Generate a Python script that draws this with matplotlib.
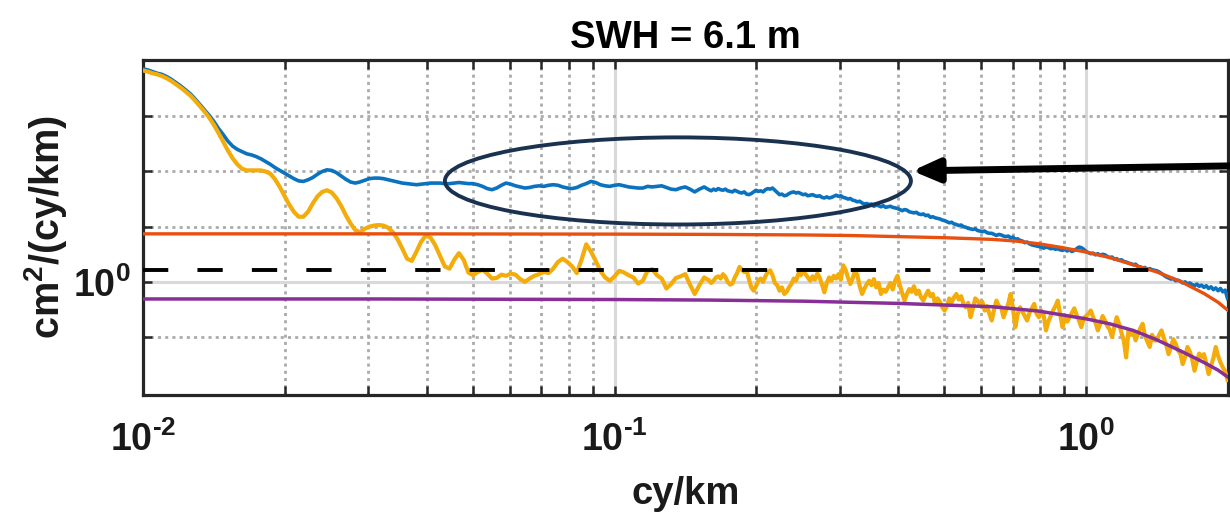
import matplotlib
matplotlib.use("Agg")
import matplotlib.pyplot as plt
import numpy as np
from matplotlib.patches import Ellipse
from matplotlib.ticker import FixedLocator, NullFormatter, FuncFormatter, LogLocator

# ---------------------------------------------------------------------------
# Wavenumber grid (log10 of cy/km) and spectra (log10 of cm^2/(cy/km))
# ---------------------------------------------------------------------------
freq_exp = [
    -2.00, -1.99, -1.98, -1.97, -1.96, -1.95, -1.94, -1.93, -1.92, -1.91,
    -1.90, -1.89, -1.88, -1.87, -1.86, -1.85, -1.84, -1.83, -1.82, -1.81,
    -1.80, -1.79, -1.78, -1.77, -1.76, -1.75, -1.74, -1.73, -1.72, -1.71,
    -1.70, -1.69, -1.68, -1.67, -1.66, -1.65, -1.64, -1.63, -1.62, -1.61,
    -1.60, -1.59, -1.58, -1.57, -1.56, -1.55, -1.54, -1.53, -1.52, -1.51,
    -1.50, -1.49, -1.48, -1.47, -1.46, -1.45, -1.44, -1.43, -1.42, -1.41,
    -1.40, -1.39, -1.38, -1.37, -1.36, -1.35, -1.34, -1.33, -1.32, -1.31,
    -1.30, -1.29, -1.28, -1.27, -1.26, -1.25, -1.24, -1.23, -1.22, -1.21,
    -1.20, -1.19, -1.18, -1.17, -1.16, -1.15, -1.14, -1.13, -1.12, -1.11,
    -1.10, -1.09, -1.08, -1.07, -1.06, -1.05, -1.04, -1.03, -1.02, -1.01,
    -1.00, -0.99, -0.98, -0.97, -0.96, -0.95, -0.94, -0.93, -0.92, -0.91,
    -0.90, -0.89, -0.88, -0.87, -0.86, -0.85, -0.84, -0.83, -0.82, -0.81,
    -0.800, -0.795, -0.790, -0.785, -0.780, -0.775, -0.770, -0.765, -0.760, -0.755,
    -0.750, -0.745, -0.740, -0.735, -0.730, -0.725, -0.720, -0.715, -0.710, -0.705,
    -0.700, -0.695, -0.690, -0.685, -0.680, -0.675, -0.670, -0.665, -0.660, -0.655,
    -0.650, -0.645, -0.640, -0.635, -0.630, -0.625, -0.620, -0.615, -0.610, -0.605,
    -0.600, -0.595, -0.590, -0.585, -0.580, -0.575, -0.570, -0.565, -0.560, -0.555,
    -0.550, -0.545, -0.540, -0.535, -0.530, -0.525, -0.520, -0.515, -0.510, -0.505,
    -0.500, -0.495, -0.490, -0.485, -0.480, -0.475, -0.470, -0.465, -0.460, -0.455,
    -0.450, -0.445, -0.440, -0.435, -0.430, -0.425, -0.420, -0.415, -0.410, -0.405,
    -0.400, -0.395, -0.390, -0.385, -0.380, -0.375, -0.370, -0.365, -0.360, -0.355,
    -0.350, -0.345, -0.340, -0.335, -0.330, -0.325, -0.320, -0.315, -0.310, -0.305,
    -0.300, -0.295, -0.290, -0.285, -0.280, -0.275, -0.270, -0.265, -0.260, -0.255,
    -0.250, -0.245, -0.240, -0.235, -0.230, -0.225, -0.220, -0.215, -0.210, -0.205,
    -0.200, -0.195, -0.190, -0.185, -0.180, -0.175, -0.170, -0.165, -0.160, -0.155,
    -0.150, -0.145, -0.140, -0.135, -0.130, -0.125, -0.120, -0.115, -0.110, -0.105,
    -0.100, -0.095, -0.090, -0.085, -0.080, -0.075, -0.070, -0.065, -0.060, -0.055,
    -0.050, -0.045, -0.040, -0.035, -0.030, -0.025, -0.020, -0.015, -0.010, -0.005,
    0.000, 0.005, 0.010, 0.015, 0.020, 0.025, 0.030, 0.035, 0.040, 0.045,
    0.050, 0.055, 0.060, 0.065, 0.070, 0.075, 0.080, 0.085, 0.090, 0.095,
    0.100, 0.105, 0.110, 0.115, 0.120, 0.125, 0.130, 0.135, 0.140, 0.145,
    0.150, 0.155, 0.160, 0.165, 0.170, 0.175, 0.180, 0.185, 0.190, 0.195,
    0.200, 0.205, 0.210, 0.215, 0.220, 0.225, 0.230, 0.235, 0.240, 0.245,
    0.250, 0.255, 0.260, 0.265, 0.270, 0.275, 0.280, 0.285, 0.290, 0.295,
    0.300,
]

# total SSH spectrum
spec_total_exp = [
    3.86, 3.84, 3.81, 3.78, 3.76, 3.72, 3.67, 3.61, 3.55, 3.48,
    3.41, 3.32, 3.22, 3.12, 3.02, 2.91, 2.78, 2.67, 2.55, 2.46,
    2.40, 2.36, 2.32, 2.30, 2.27, 2.23, 2.18, 2.13, 2.07, 2.02,
    1.97, 1.92, 1.87, 1.83, 1.82, 1.85, 1.89, 1.95, 2.00, 2.03,
    2.02, 1.98, 1.92, 1.86, 1.81, 1.79, 1.81, 1.84, 1.87, 1.88,
    1.88, 1.87, 1.85, 1.83, 1.81, 1.79, 1.78, 1.77, 1.76, 1.77,
    1.78, 1.79, 1.79, 1.79, 1.78, 1.78, 1.79, 1.80, 1.79, 1.78,
    1.78, 1.76, 1.73, 1.69, 1.67, 1.70, 1.75, 1.79, 1.77, 1.74,
    1.72, 1.70, 1.71, 1.73, 1.74, 1.73, 1.75, 1.76, 1.75, 1.72,
    1.70, 1.69, 1.71, 1.75, 1.78, 1.82, 1.80, 1.76, 1.74, 1.73,
    1.75, 1.76, 1.74, 1.72, 1.71, 1.70, 1.70, 1.73, 1.72, 1.73,
    1.74, 1.71, 1.68, 1.67, 1.70, 1.72, 1.68, 1.63, 1.68, 1.72,
    1.67, 1.65, 1.68, 1.66, 1.69, 1.67, 1.66, 1.68, 1.65, 1.64,
    1.63, 1.66, 1.64, 1.62, 1.61, 1.63, 1.59, 1.58, 1.60, 1.63,
    1.66, 1.64, 1.65, 1.63, 1.67, 1.69, 1.68, 1.70, 1.66, 1.62,
    1.58, 1.59, 1.56, 1.57, 1.60, 1.62, 1.63, 1.61, 1.62, 1.60,
    1.58, 1.59, 1.56, 1.57, 1.58, 1.56, 1.55, 1.56, 1.53, 1.52,
    1.54, 1.52, 1.53, 1.55, 1.57, 1.55, 1.56, 1.53, 1.52, 1.50,
    1.51, 1.48, 1.47, 1.45, 1.46, 1.43, 1.41, 1.42, 1.40, 1.41,
    1.37, 1.39, 1.38, 1.36, 1.38, 1.35, 1.36, 1.37, 1.35, 1.34,
    1.33, 1.31, 1.29, 1.31, 1.30, 1.27, 1.26, 1.25, 1.26, 1.23,
    1.22, 1.23, 1.20, 1.21, 1.17, 1.18, 1.16, 1.15, 1.14, 1.12,
    1.11, 1.09, 1.07, 1.08, 1.05, 1.04, 1.02, 1.03, 1.00, 0.99,
    0.97, 0.96, 0.95, 0.96, 0.93, 0.92, 0.91, 0.92, 0.89, 0.88,
    0.88, 0.86, 0.84, 0.86, 0.85, 0.83, 0.82, 0.83, 0.80, 0.81,
    0.77, 0.78, 0.75, 0.74, 0.71, 0.72, 0.69, 0.67, 0.66, 0.65,
    0.64, 0.63, 0.61, 0.63, 0.62, 0.60, 0.61, 0.59, 0.60, 0.58,
    0.57, 0.59, 0.56, 0.58, 0.55, 0.57, 0.60, 0.63, 0.62, 0.59,
    0.55, 0.53, 0.51, 0.52, 0.49, 0.51, 0.48, 0.50, 0.49, 0.46,
    0.44, 0.45, 0.41, 0.42, 0.39, 0.40, 0.37, 0.36, 0.34, 0.33,
    0.31, 0.32, 0.28, 0.27, 0.25, 0.26, 0.22, 0.24, 0.22, 0.21,
    0.20, 0.18, 0.15, 0.12, 0.09, 0.07, 0.05, 0.06, 0.02, 0.03,
    0.01, -0.02, 0.00, -0.04, -0.02, -0.05, -0.07, -0.04, -0.08, -0.06,
    -0.10, -0.07, -0.12, -0.09, -0.14, -0.11, -0.16, -0.12, -0.18, -0.15,
    -0.30,
]

# spectrum after correction
spec_corr_exp = [
    3.83, 3.81, 3.78, 3.76, 3.73, 3.69, 3.64, 3.58, 3.52, 3.45,
    3.38, 3.29, 3.19, 3.09, 2.98, 2.85, 2.70, 2.54, 2.38, 2.24,
    2.13, 2.05, 2.02, 2.02, 2.02, 2.02, 2.00, 1.96, 1.86, 1.72,
    1.56, 1.40, 1.27, 1.18, 1.18, 1.27, 1.42, 1.55, 1.63, 1.66,
    1.62, 1.52, 1.38, 1.21, 1.06, 0.94, 0.90, 0.96, 1.00, 1.02,
    1.03, 1.02, 0.98, 0.90, 0.77, 0.60, 0.42, 0.38, 0.55, 0.73,
    0.84, 0.80, 0.66, 0.47, 0.28, 0.24, 0.40, 0.52, 0.40, 0.17,
    0.12, 0.18, 0.22, 0.15, 0.06, 0.07, 0.13, 0.11, 0.15, 0.13,
    0.05, 0.00, 0.06, 0.11, 0.14, 0.18, 0.16, 0.24, 0.36, 0.42,
    0.36, 0.28, 0.16, 0.40, 0.68, 0.55, 0.38, 0.20, 0.08, 0.02,
    0.10, 0.20, 0.17, 0.12, 0.08, -0.03, 0.02, 0.20, 0.23, 0.12,
    0.06, -0.12, -0.04, 0.07, 0.10, 0.14, -0.05, -0.22, -0.06, 0.08,
    0.03, -0.02, 0.02, 0.08, 0.10, 0.06, 0.14, 0.09, 0.00, -0.05,
    -0.03, 0.08, 0.16, 0.27, 0.22, 0.18, 0.21, 0.05, -0.10, -0.16,
    -0.08, 0.02, 0.06, 0.00, 0.10, 0.18, 0.21, 0.12, -0.02, -0.06,
    -0.16, -0.10, -0.22, -0.18, -0.10, -0.04, 0.06, 0.02, 0.15, 0.12,
    0.21, 0.14, 0.08, 0.02, 0.10, 0.04, 0.15, 0.08, -0.05, -0.19,
    -0.02, 0.08, 0.02, 0.11, 0.06, 0.14, 0.04, 0.30, 0.22, 0.08,
    -0.04, 0.06, 0.21, 0.12, -0.08, -0.22, -0.12, -0.04, 0.02, -0.06,
    0.05, -0.10, -0.02, -0.22, -0.14, -0.18, -0.10, -0.02, -0.14, 0.02,
    0.11, -0.06, -0.20, -0.34, -0.22, -0.13, -0.18, -0.08, -0.22, -0.16,
    -0.28, -0.34, -0.24, -0.16, -0.26, -0.22, -0.40, -0.30, -0.36, -0.46,
    -0.52, -0.44, -0.30, -0.37, -0.28, -0.22, -0.32, -0.26, -0.40, -0.46,
    -0.38, -0.64, -0.48, -0.30, -0.34, -0.42, -0.36, -0.52, -0.44, -0.58,
    -0.70, -0.50, -0.34, -0.44, -0.46, -0.64, -0.52, -0.40, -0.22, -0.48,
    -0.82, -0.58, -0.46, -0.54, -0.62, -0.70, -0.56, -0.48, -0.40, -0.58,
    -0.64, -0.52, -0.60, -0.88, -0.72, -0.62, -0.52, -0.44, -0.34, -0.58,
    -0.82, -0.66, -0.72, -0.64, -0.56, -0.48, -0.60, -0.70, -0.82, -0.66,
    -0.62, -0.58, -0.52, -0.64, -0.74, -0.88, -0.76, -0.62, -0.70, -0.80,
    -0.86, -1.00, -0.82, -0.64, -0.76, -0.92, -1.06, -1.37, -0.88, -0.96,
    -0.90, -1.06, -0.94, -0.84, -0.76, -0.98, -1.08, -1.18, -0.96, -1.06,
    -1.06, -0.96, -0.88, -1.02, -1.14, -1.31, -1.18, -1.04, -1.12, -1.24,
    -1.30, -1.49, -1.36, -1.18, -1.26, -1.40, -1.61, -1.44, -1.30, -1.36,
    -1.31, -1.48, -1.67, -1.52, -1.38, -1.18, -1.34, -1.46, -1.55, -1.62,
    -1.78,
]

# fitted noise models
model_freq_exp = [-2.00, -1.50, -1.00, -0.80, -0.60, -0.50, -0.40, -0.30, -0.20, -0.15,
                  -0.10, -0.05, 0.00, 0.05, 0.10, 0.15, 0.20, 0.25, 0.28, 0.30]
noise_total_exp = [0.87, 0.87, 0.865, 0.86, 0.85, 0.84, 0.82, 0.80, 0.77, 0.74,
                   0.69, 0.62, 0.54, 0.44, 0.31, 0.18, 0.01, -0.21, -0.37, -0.51]
noise_corr_exp = [-0.31, -0.31, -0.32, -0.33, -0.35, -0.37, -0.39, -0.42, -0.45, -0.49,
                  -0.53, -0.60, -0.67, -0.76, -0.88, -1.05, -1.25, -1.46, -1.60, -1.72]

noise_level = 1.65  # cm^2/(cy/km)

title_text = "SWH = 6.1 m"
x_label = "cy/km"
y_label = r"cm$^{2}$/(cy/km)"
x_major = [1e-2, 1e-1, 1e0]
y_major = [1e0]
y_minor = [1e-1, 1e1, 1e2, 1e3]

# ---------------------------------------------------------------------------
plt.rcParams.update({
    "font.family": ["Liberation Sans", "DejaVu Sans"],
    "font.weight": "bold",
    "mathtext.fontset": "custom",
    "mathtext.rm": "Liberation Sans:bold",
    "mathtext.it": "Liberation Sans:bold",
    "mathtext.bf": "Liberation Sans:bold",
    "mathtext.default": "regular",
    "axes.unicode_minus": False,
})

freq = 10.0 ** np.array(freq_exp)
spec_total = 10.0 ** np.array(spec_total_exp)
spec_corr = 10.0 ** np.array(spec_corr_exp)
model_freq = 10.0 ** np.array(model_freq_exp)
noise_total = 10.0 ** np.array(noise_total_exp)
noise_corr = 10.0 ** np.array(noise_corr_exp)


def decade_label(value, pos):
    """10^n with a short hyphen for negative exponents."""
    e = int(round(np.log10(value)))
    exp = r"\text{-}%d" % (-e) if e < 0 else "%d" % e
    return r"$\mathdefault{10^{%s}}$" % exp


W, H = 1230, 513
fig = plt.figure(figsize=(W / 100, H / 100), dpi=100)
ax = fig.add_axes([143 / W, 1 - 395 / H, 1085 / W, 335 / H])

ax.set_xscale("log")
ax.set_yscale("log")

ax.plot(freq, spec_total, color="#0A72BF", lw=2.6, zorder=3)
ax.plot(freq, spec_corr, color="#F3AC0A", lw=3.0, zorder=4)
ax.plot(model_freq, noise_total, color="#E8500F", lw=2.4, zorder=5)
ax.plot(model_freq, noise_corr, color="#872F96", lw=2.5, zorder=6)
ax.axhline(noise_level, color="black", lw=2.8, ls=(0, (6.5, 7.5)), zorder=7)

ax.set_xlim(0.01, 2.0)
ax.set_ylim(10 ** -2.05, 10 ** 4.02)

ax.xaxis.set_major_locator(FixedLocator(x_major))
ax.xaxis.set_major_formatter(FuncFormatter(decade_label))
ax.xaxis.set_minor_locator(LogLocator(base=10, subs=np.arange(2, 10)))
ax.xaxis.set_minor_formatter(NullFormatter())
ax.yaxis.set_major_locator(FixedLocator(y_major))
ax.yaxis.set_major_formatter(FuncFormatter(decade_label))
ax.yaxis.set_minor_locator(FixedLocator(y_minor))
ax.yaxis.set_minor_formatter(NullFormatter())

ax.set_axisbelow(True)
ax.grid(True, which="major", color="#d9d9d9", lw=2.2, ls="-")
ax.grid(True, which="minor", color="#ababab", lw=2.0, ls=(0, (1.1, 1.5)))

for sp in ax.spines.values():
    sp.set_linewidth(2.3)
    sp.set_color("#262626")

ax.tick_params(which="both", direction="in", top=True, right=True,
               length=6.5, width=1.8, color="#262626", labelsize=27,
               labelcolor="#1a1a1a")
ax.tick_params(axis="x", which="both", pad=19)
ax.tick_params(axis="y", which="both", pad=9)

ax.set_title(title_text, fontsize=27.5, fontweight="bold", pad=9)
ax.set_xlabel(x_label, fontsize=27.5, fontweight="bold", color="#1a1a1a")
ax.xaxis.set_label_coords(0.5, -0.242)
ax.set_ylabel(y_label, fontsize=28.5, fontweight="bold", color="#1a1a1a")
ax.yaxis.set_label_coords(-0.068, 0.5)

# highlight of the flat plateau with a pointer from the right
ax.add_patch(Ellipse((0.493, 0.639), 0.4295, 0.26, transform=ax.transAxes,
                     fill=False, edgecolor="#1B3150", lw=2.8, zorder=8,
                     clip_on=False))
ax.annotate("", xy=(0.709, 0.669), xytext=(1.004, 0.684),
            xycoords="axes fraction", textcoords="axes fraction",
            annotation_clip=False, zorder=9,
            arrowprops=dict(arrowstyle="-|>,head_length=0.8,head_width=0.35",
                            color="black", lw=5, shrinkA=0, shrinkB=0,
                            mutation_scale=20))

fig.savefig("out.png", dpi=100)
